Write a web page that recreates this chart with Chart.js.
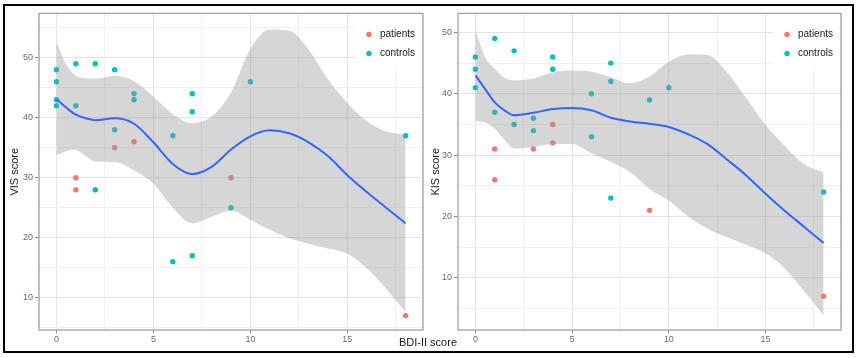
<!DOCTYPE html>
<html>
<head>
<meta charset="utf-8">
<script src="https://cdn.jsdelivr.net/npm/chart.js@4.4.1/dist/chart.umd.min.js"></script>
<style>
  body { margin: 0; background: #fff; }
  #frame { position: absolute; left: 3px; top: 4px; width: 851px; height: 349px; box-sizing: border-box; border: 2px solid #000; }
  canvas { position: absolute; top: 6px; }
  #visChart { left: 5px; }
  #kisChart { left: 428px; }
  #xTitle { position: absolute; left: 0; width: 856px; top: 336px; text-align: center; font: 11px "Liberation Sans", Arial, sans-serif; color: #1a1a1a; }
</style>
</head>
<body>
<div id="frame"></div>
<canvas id="visChart" width="423" height="346"></canvas>
<canvas id="kisChart" width="420" height="346"></canvas>
<div id="xTitle">BDI-II score</div>
<script>
// Group names and colours
const groupNames = ['patients', 'controls'];
const groupColors = ['#F8766D', '#00BFC4'];

// Tick positions
const xMajor = [0, 5, 10, 15];
const xMinor = [2.5, 7.5, 12.5, 17.5];
const yMajor = [10, 20, 30, 40, 50];
const visMinor = [5, 15, 25, 35, 45, 55];
const kisMinor = [5, 15, 25, 35, 45];

// VIS score points
const visPatientsX = [1, 1, 3, 4, 9, 18];
const visPatientsY = [30, 28, 35, 36, 30, 7];
const visControlsX = [0, 0, 0, 0, 1, 1, 2, 2, 3, 3, 4, 4, 6, 6, 7, 7, 7, 9, 10, 18];
const visControlsY = [48, 46, 43, 42, 49, 42, 49, 28, 48, 38, 44, 43, 37, 16, 44, 41, 17, 25, 46, 37];

// KIS score points
const kisPatientsX = [1, 1, 3, 4, 4, 9, 18];
const kisPatientsY = [31, 26, 31, 35, 32, 21, 7];
const kisControlsX = [0, 0, 0, 1, 1, 2, 2, 3, 3, 4, 4, 6, 6, 7, 7, 7, 9, 10, 18];
const kisControlsY = [46, 44, 41, 49, 37, 47, 35, 36, 34, 46, 44, 40, 33, 45, 42, 23, 39, 41, 24];

// loess fit with its confidence band
const fitX = [0, 0.5, 1, 1.5, 2, 3, 4, 5, 6, 7, 8, 9, 10, 11, 12, 13, 14, 15, 16, 17, 18];
const visFit   = [43.1, 41.7, 40.5, 39.9, 39.6, 39.9, 39.0, 35.9, 32.3, 30.6, 31.8, 34.7, 36.9, 37.9, 37.4, 35.9, 33.6, 30.4, 27.6, 25.0, 22.4];
const visUpper = [52.6, 48.9, 47.0, 46.6, 46.5, 47.0, 46.1, 43.5, 40.6, 39.1, 40.2, 44.2, 51.5, 54.7, 54.5, 51.4, 46.4, 42.5, 39.4, 37.7, 37.2];
const visLower = [33.7, 34.4, 34.6, 33.6, 32.7, 32.6, 31.2, 29.0, 25.0, 22.4, 23.5, 24.5, 23.0, 21.3, 19.9, 19.0, 18.2, 17.3, 14.9, 11.5, 7.6];
const kisFit   = [43.0, 40.8, 38.6, 37.3, 36.5, 36.9, 37.5, 37.7, 37.3, 36.1, 35.5, 35.1, 34.6, 33.4, 31.8, 29.3, 26.7, 23.7, 20.9, 18.3, 15.7];
const kisUpper = [50.4, 46.0, 44.1, 42.6, 42.2, 42.5, 43.5, 43.8, 43.6, 42.7, 41.7, 42.8, 45.2, 46.4, 46.3, 43.5, 39.3, 34.9, 31.5, 28.5, 27.2];
const kisLower = [35.6, 35.3, 34.3, 32.5, 31.1, 31.3, 31.8, 31.8, 30.3, 28.9, 27.2, 24.5, 22.6, 20.0, 18.0, 16.6, 15.4, 14.0, 11.5, 7.8, 3.9];

const FONT = '"Liberation Sans", Arial, sans-serif';

function xy(xs, ys) {
    return xs.map((x, i) => ({ x: x, y: ys[i] }));
}

// draws the inside legend and the panel border
const panelPlugin = {
    id: 'panelPlugin',
    afterDatasetsDraw(chart) {
        const ctx = chart.ctx;
        const a = chart.chartArea;
        ctx.save();
        ctx.fillStyle = '#fff';
        ctx.fillRect(a.right - 68, a.top, 68, 55);
        ctx.font = '10px ' + FONT;
        ctx.textBaseline = 'middle';
        groupNames.forEach((name, i) => {
            const y = a.top + 21 + i * 19;
            ctx.fillStyle = groupColors[i];
            ctx.beginPath();
            ctx.arc(a.right - 54, y, 2.7, 0, Math.PI * 2);
            ctx.fill();
            ctx.fillStyle = '#1a1a1a';
            ctx.fillText(name, a.right - 43, y);
        });
        ctx.strokeStyle = '#a0a0a0';
        ctx.lineWidth = 1.3;
        ctx.strokeRect(a.left, a.top, a.right - a.left, a.bottom - a.top);
        ctx.restore();
    }
};

function gridColor(major) {
    return c => major.includes(c.tick.value) ? '#e4e4e4' : '#f1f1f1';
}

function makePanel(id, opts) {
    const datasets = [
        { label: 'fit', data: xy(fitX, opts.fit), showLine: true, borderColor: '#3366FF', borderWidth: 2,
          pointRadius: 0, cubicInterpolationMode: 'monotone', order: 0 },
        { label: 'upper', data: xy(fitX, opts.upper), showLine: true, borderWidth: 0, pointRadius: 0,
          cubicInterpolationMode: 'monotone', fill: '+1', backgroundColor: 'rgba(153,153,153,0.4)', order: 1 },
        { label: 'lower', data: xy(fitX, opts.lower), showLine: true, borderWidth: 0, pointRadius: 0,
          cubicInterpolationMode: 'monotone', order: 1 },
        { label: groupNames[0], data: xy(opts.patX, opts.patY), backgroundColor: groupColors[0],
          pointRadius: 2.7, pointBorderWidth: 0, order: 2 },
        { label: groupNames[1], data: xy(opts.conX, opts.conY), backgroundColor: groupColors[1],
          pointRadius: 2.7, pointBorderWidth: 0, order: 2 }
    ];

    new Chart(id, {
        type: 'scatter',
        data: { datasets: datasets },
        options: {
            responsive: false,
            animation: false,
            layout: { padding: { top: 7, right: opts.padRight, left: 0, bottom: 0 } },
            plugins: { legend: { display: false }, tooltip: { enabled: false } },
            scales: {
                x: {
                    type: 'linear', min: -0.9, max: 18.9,
                    afterBuildTicks: s => { s.ticks = xMajor.concat(xMinor).sort((a, b) => a - b).map(v => ({ value: v })); },
                    afterFit: s => { s.height = 22; },
                    border: { display: false },
                    grid: { color: gridColor(xMajor), lineWidth: 1, tickLength: 3,
                            tickColor: c => xMajor.includes(c.tick.value) ? '#8a8a8a' : 'rgba(0,0,0,0)' },
                    ticks: { padding: 1, maxRotation: 0, autoSkip: false, color: '#6b6b6b', font: { family: FONT, size: 9 },
                             callback: v => xMajor.includes(v) ? v : '' }
                },
                y: {
                    type: 'linear', min: opts.yMin, max: opts.yMax,
                    afterBuildTicks: s => { s.ticks = yMajor.concat(opts.yMinor).sort((a, b) => a - b).map(v => ({ value: v })); },
                    afterFit: s => { s.width = opts.axisWidth; },
                    border: { display: false },
                    title: { display: true, text: opts.title, color: '#1a1a1a', font: { family: FONT, size: 11 },
                             padding: { top: opts.titlePad, bottom: 0 } },
                    grid: { color: gridColor(yMajor), lineWidth: 1, tickLength: 4,
                            tickColor: c => yMajor.includes(c.tick.value) ? '#8a8a8a' : 'rgba(0,0,0,0)' },
                    ticks: { padding: 2, autoSkip: false, color: '#6b6b6b', font: { family: FONT, size: 9 },
                             callback: v => yMajor.includes(v) ? v : '' }
                }
            }
        },
        plugins: [panelPlugin]
    });
}

makePanel('visChart', {
    title: 'VIS score', fit: visFit, upper: visUpper, lower: visLower,
    patX: visPatientsX, patY: visPatientsY, conX: visControlsX, conY: visControlsY,
    yMin: 4.6, yMax: 57.4, yMinor: visMinor, axisWidth: 34, titlePad: 3, padRight: 5
});

makePanel('kisChart', {
    title: 'KIS score', fit: kisFit, upper: kisUpper, lower: kisLower,
    patX: kisPatientsX, patY: kisPatientsY, conX: kisControlsX, conY: kisControlsY,
    yMin: 1.5, yMax: 53.1, yMinor: kisMinor, axisWidth: 30, titlePad: 1, padRight: 7
});
</script>
</body>
</html>
